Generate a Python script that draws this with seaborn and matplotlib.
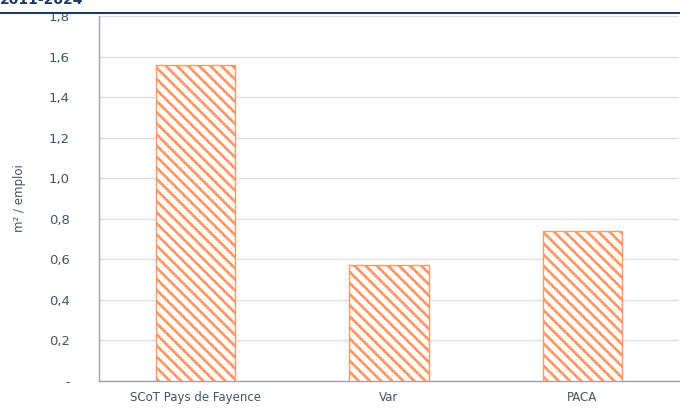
import matplotlib.pyplot as plt
import seaborn as sns
import pandas as pd

territoires = ["SCoT Pays de Fayence", "Var", "PACA"]
m2_par_emploi = [1.56, 0.57, 0.74]
yticks = [0, 0.2, 0.4, 0.6, 0.8, 1.0, 1.2, 1.4, 1.6, 1.8]
ytick_labels = ["-", "0,2", "0,4", "0,6", "0,8", "1,0", "1,2", "1,4", "1,6", "1,8"]
titre = "2011-2024"

texte = "#44546A"
orange = "#FF9966"

sns.set_style("white")
plt.rcParams['font.family'] = ['DejaVu Sans']
plt.rcParams['hatch.linewidth'] = 2.0

df = pd.DataFrame({"territoire": territoires, "valeur": m2_par_emploi})

fig = plt.figure(figsize=(6.8, 4.08), dpi=100)
ax = fig.add_axes([0.1456, 0.0662, 0.853, 0.8946])

sns.barplot(data=df, x="territoire", y="valeur", color="white", width=0.41,
            edgecolor=orange, linewidth=1.0, ax=ax, zorder=3)
for p in ax.patches:
    p.set_hatch("\\\\\\")
    p.set_facecolor("white")
    p.set_edgecolor(orange)

ax.set_ylim(0, 1.8)
ax.set_yticks(yticks)
ax.set_yticklabels(ytick_labels, fontsize=9.5, color=texte)
ax.tick_params(axis="x", labelsize=8.5, colors=texte, length=0, pad=7)
ax.tick_params(axis="y", length=5, width=1, color="#A0A0B0", direction="out", pad=16)
for lab in ax.get_yticklabels():
    lab.set_color(texte)
ax.yaxis.grid(True, color="#DDDDDD", linewidth=1, zorder=0)
ax.set_axisbelow(True)
ax.set_xlabel("")
ax.set_ylabel("m² / emploi", fontsize=8.5, color=texte, labelpad=16)

for s in ["top", "right"]:
    ax.spines[s].set_visible(False)
for s in ["left", "bottom"]:
    ax.spines[s].set_color("#A0A0B0")
    ax.spines[s].set_linewidth(1)

# titre coupé et filet bleu en haut
fig.text(0.0, 1 - 4 / 408, titre, fontsize=10, fontweight="bold", color="#1F3864",
         va="baseline", ha="left")
fig.add_artist(plt.Line2D([0, 1], [1 - 13 / 408, 1 - 13 / 408], color="#1F3864",
                          linewidth=1.5, transform=fig.transFigure))

fig.savefig("out.png", dpi=100)
